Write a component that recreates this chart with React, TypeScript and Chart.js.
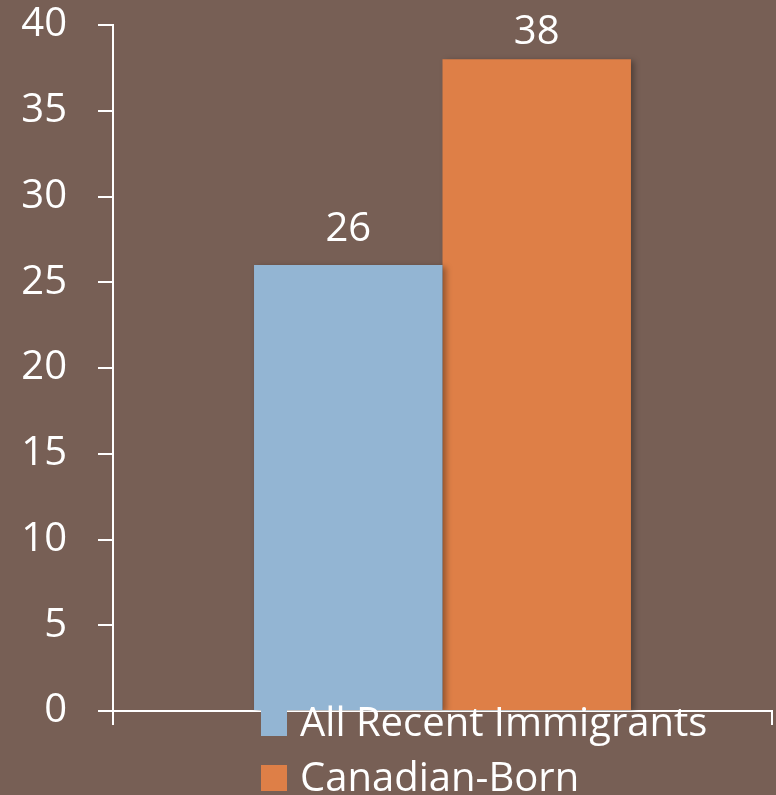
import React, { useEffect, useRef } from "react";
import { Chart, registerables } from "chart.js";

Chart.register(...registerables);

const categories = [""];
const seriesLabels = ["All Recent Immigrants", "Canadian-Born"];
const recentImmigrants = [26];
const canadianBorn = [38];
const seriesColors = ["#93B5D3", "#DE7F47"];
const yTicks = [0, 5, 10, 15, 20, 25, 30, 35, 40];

const BG = "#775F55";
const FONT = "'Open Sans', sans-serif";

const bgPlugin = {
  id: "bg",
  beforeDraw(chart: any) {
    const ctx = chart.ctx;
    ctx.save();
    ctx.fillStyle = BG;
    ctx.fillRect(0, 0, chart.width, chart.height);
    ctx.restore();
  },
};

const shadowPlugin = {
  id: "barShadow",
  beforeDatasetsDraw(chart: any) {
    const ctx = chart.ctx;
    ctx.save();
    ctx.shadowColor = "rgba(0,0,0,0.35)";
    ctx.shadowBlur = 6;
    ctx.shadowOffsetX = 3;
    ctx.shadowOffsetY = 2;
  },
  afterDatasetsDraw(chart: any) {
    chart.ctx.restore();
  },
};

const labelPlugin = {
  id: "valueLabels",
  afterDatasetsDraw(chart: any) {
    const ctx = chart.ctx;
    ctx.save();
    ctx.shadowColor = "transparent";
    ctx.fillStyle = "#FFFFFF";
    ctx.font = `40px ${FONT}`;
    ctx.textAlign = "center";
    ctx.textBaseline = "alphabetic";
    chart.data.datasets.forEach((ds: any, i: number) => {
      const meta = chart.getDatasetMeta(i);
      meta.data.forEach((el: any, j: number) => {
        const y = Math.max(el.y - 24, 44);
        ctx.fillText(String(ds.data[j]), el.x, y);
      });
    });
    ctx.restore();
  },
};

const legendPlugin = {
  id: "customLegend",
  afterDraw(chart: any) {
    const ctx = chart.ctx;
    ctx.save();
    ctx.font = `40px ${FONT}`;
    ctx.textAlign = "left";
    ctx.textBaseline = "alphabetic";
    const x0 = 261;
    const rows = [710, 765];
    chart.data.datasets.forEach((ds: any, i: number) => {
      const top = rows[i];
      ctx.fillStyle = ds.backgroundColor;
      ctx.fillRect(x0, top, 26, 26);
      ctx.fillStyle = "#FFFFFF";
      ctx.fillText(ds.label, x0 + 39, top + 26);
    });
    ctx.restore();
  },
};

export default function App() {
  const ref = useRef<HTMLCanvasElement | null>(null);

  useEffect(() => {
    if (!ref.current) return;
    const chart = new Chart(ref.current, {
      type: "bar",
      data: {
        labels: categories,
        datasets: [
          {
            label: seriesLabels[0],
            data: recentImmigrants,
            backgroundColor: seriesColors[0],
            borderWidth: 0,
          },
          {
            label: seriesLabels[1],
            data: canadianBorn,
            backgroundColor: seriesColors[1],
            borderWidth: 0,
          },
        ],
      },
      options: {
        animation: false,
        responsive: false,
        maintainAspectRatio: false,
        layout: { padding: { top: 25, right: 4, left: 0, bottom: 0 } },
        datasets: {
          bar: { barPercentage: 1, categoryPercentage: 0.572 },
        },
        plugins: {
          legend: { display: false },
          tooltip: { enabled: false },
        },
        scales: {
          x: {
            z: 1,
            grid: {
              display: true,
              drawOnChartArea: false,
              drawTicks: true,
              tickLength: 14,
              color: "#FFFFFF",
              lineWidth: 2,
              offset: true,
            },
            border: { display: true, color: "#FFFFFF", width: 2 },
            ticks: { display: false },
            afterFit(scale: any) {
              scale.height = 84;
              scale.paddingLeft = 0;
              scale.paddingRight = 0;
            },
          },
          y: {
            min: 0,
            max: 40,
            afterBuildTicks(scale: any) {
              scale.ticks = yTicks.map((v) => ({ value: v }));
            },
            grid: {
              display: true,
              drawOnChartArea: false,
              drawTicks: true,
              tickLength: 15,
              color: "#FFFFFF",
              lineWidth: 2,
            },
            border: { display: true, color: "#FFFFFF", width: 2 },
            ticks: {
              color: "#FFFFFF",
              font: { family: FONT, size: 40 },
              padding: 31,
            },
            afterFit(scale: any) {
              scale.width = 113;
              scale.paddingTop = 0;
              scale.paddingBottom = 0;
            },
          },
        },
      },
      plugins: [bgPlugin, shadowPlugin, labelPlugin, legendPlugin],
    });
    return () => chart.destroy();
  }, []);

  return (
    <div style={{ position: "fixed", left: 0, top: 0, width: 776, height: 795, background: BG }}>
      <canvas ref={ref} width={776} height={795} style={{ display: "block" }} />
    </div>
  );
}
